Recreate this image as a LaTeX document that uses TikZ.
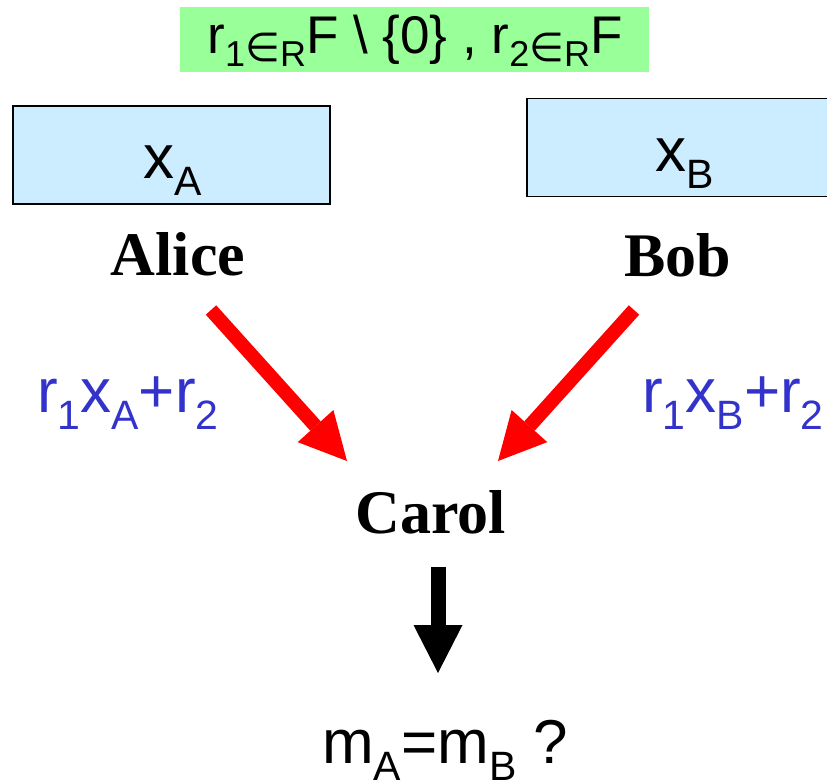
\documentclass[tikz,border=0pt]{standalone}
\usepackage{fontspec}
\setmainfont{Liberation Serif}
\newfontfamily\arialf{Liberation Sans}
\newfontfamily\dejaf{DejaVu Sans}
\usetikzlibrary{arrows.meta}
\definecolor{boxgreen}{HTML}{99FF99}
\definecolor{boxblue}{HTML}{CCECFF}
\definecolor{txtblue}{HTML}{3333CC}
\newcommand\sbA[1]{\raisebox{-17pt}{\fontsize{41pt}{41pt}\selectfont #1}}
\newcommand\sbG[1]{\raisebox{-13pt}{\fontsize{36pt}{36pt}\selectfont #1}}
\newcommand\elemR{\raisebox{-8pt}{\fontsize{40pt}{40pt}\selectfont\dejaf ∈}}
\tikzset{
  sanstext/.style={inner sep=0pt, font=\arialf\fontsize{62pt}{62pt}\selectfont},
  nametext/.style={inner sep=0pt, anchor=base, font=\bfseries\fontsize{62pt}{62pt}\selectfont},
  bluebox/.style={draw=black, line width=1.5pt, fill=boxblue, minimum width=317pt, minimum height=98pt, inner sep=0pt},
  redarrow/.style={draw=red, line width=14pt, -{Triangle[length=47pt,width=48pt,line width=0pt]}},
  blackarrow/.style={draw=black, line width=15pt, -{Triangle[length=48pt,width=49pt,line width=0pt]}}
}
\begin{document}
\begin{tikzpicture}[x=1pt,y=1pt]
\useasboundingbox (0,0) rectangle (827,-780);
\clip (0,0) rectangle (827,-780);
\node[fill=boxgreen, minimum width=469pt, minimum height=65pt, inner sep=0pt] (randbox) at (414.5,-39.5) {};
\node[inner sep=0pt, anchor=base, font=\arialf\fontsize{53pt}{53pt}\selectfont] (rand) at (415,-53)
  {r\sbG{1}\elemR\sbG{R}F \textbackslash\ \{0\} , r\sbG{2}\elemR\sbG{R}F};
\node[bluebox] (boxA) at (171.5,-155) {};
\node[bluebox] (boxB) at (685.5,-147.5) {};
\node[sanstext, anchor=base] (xA) at (172.5,-178) {x\sbA{A}};
\node[sanstext, anchor=base] (xB) at (685,-171) {x\sbA{B}};
\node[nametext] (alice) at (178,-275) {Alice};
\node[nametext] (bob) at (678,-276) {Bob};
\node[nametext] (carol) at (431,-533) {Carol};
\node[sanstext, anchor=base west, text=txtblue] (msgA) at (37,-412) {r\sbA{1}x\sbA{A}+r\sbA{2}};
\node[sanstext, anchor=base west, text=txtblue] (msgB) at (642,-412) {r\sbA{1}x\sbA{B}+r\sbA{2}};
\node[sanstext, anchor=base west] (result) at (322,-763) {m\sbA{A}=m\sbA{B} ?};
\coordinate (aS) at (211,-310);
\coordinate (aE) at (347,-461);
\coordinate (bS) at (634,-310);
\coordinate (bE) at (498,-461);
\coordinate (cS) at (438,-567);
\coordinate (cE) at (438,-673);
\draw[redarrow] (aS) -- (aE);
\draw[redarrow] (bS) -- (bE);
\draw[blackarrow] (cS) -- (cE);
\end{tikzpicture}
\end{document}
